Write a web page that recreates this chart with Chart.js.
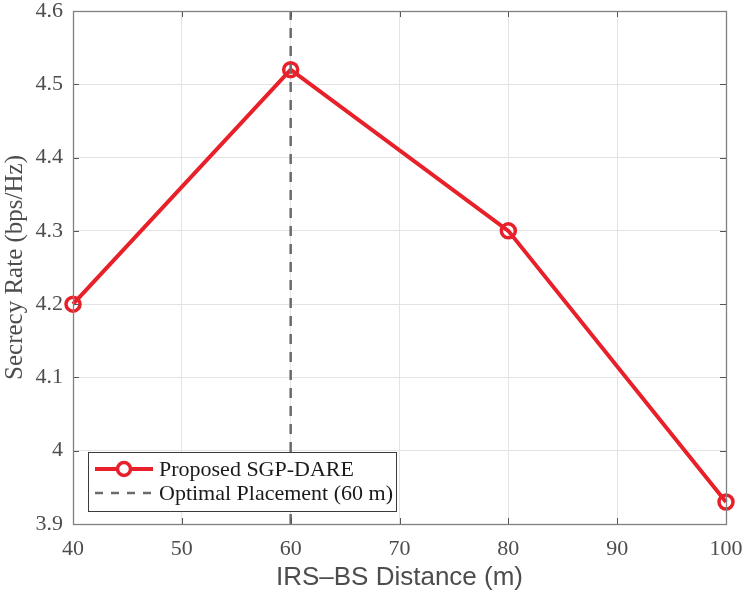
<!DOCTYPE html>
<html>
<head>
<meta charset="utf-8">
<script src="https://cdn.jsdelivr.net/npm/chart.js@4.4.1/dist/chart.umd.min.js"></script>
<style>
  html, body { margin: 0; padding: 0; background: #ffffff; }
  #wrap { width: 744px; height: 595px; position: relative; }
</style>
</head>
<body>
<div id="wrap"><canvas id="c" width="744" height="595"></canvas></div>
<script>
// ---- data ----
const distances = [40, 60, 80, 100];
const secrecyRate = [4.2, 4.52, 4.3, 3.93];
const optimalDistance = 60;
const yRange = [3.9, 4.6];
const xRange = [40, 100];
const seriesLabels = ['Proposed SGP-DARE', 'Optimal Placement (60 m)'];
const xTitle = 'IRS\u2013BS Distance (m)';
const yTitle = 'Secrecy Rate (bps/Hz)';

const RED = '#e8202a';
const DASH_GRAY = '#6b6b6b';
const AXIS_GRAY = '#808080';
const TICK_TEXT = '#4d4d4d';
const SERIF = '"Liberation Serif", "Times New Roman", serif';
const SANS = '"Liberation Sans", Arial, sans-serif';

// box, inward ticks, legend
const matlabAxes = {
  id: 'matlabAxes',
  afterDatasetsDraw(chart) {
    const {ctx, chartArea: a, scales} = chart;
    ctx.save();
    // inward ticks
    ctx.strokeStyle = '#555';
    ctx.lineWidth = 1;
    const tl = 6;
    scales.x.ticks.forEach(t => {
      const px = Math.round(scales.x.getPixelForValue(t.value)) + 0.5;
      ctx.beginPath();
      ctx.moveTo(px, a.bottom); ctx.lineTo(px, a.bottom - tl);
      ctx.moveTo(px, a.top); ctx.lineTo(px, a.top + tl);
      ctx.stroke();
    });
    scales.y.ticks.forEach(t => {
      const py = Math.round(scales.y.getPixelForValue(t.value)) + 0.5;
      ctx.beginPath();
      ctx.moveTo(a.left, py); ctx.lineTo(a.left + tl, py);
      ctx.moveTo(a.right, py); ctx.lineTo(a.right - tl, py);
      ctx.stroke();
    });
    // box
    ctx.strokeStyle = AXIS_GRAY;
    ctx.lineWidth = 1.3;
    ctx.strokeRect(Math.round(a.left) + 0.5, Math.round(a.top) + 0.5,
                   Math.round(a.right - a.left), Math.round(a.bottom - a.top));

    // legend
    const lx = 88, ly = 452, lw = 308, lh = 59;
    ctx.fillStyle = '#ffffff';
    ctx.fillRect(lx, ly, lw, lh);
    ctx.strokeStyle = '#3a3a3a';
    ctx.lineWidth = 1;
    ctx.strokeRect(lx + 0.5, ly + 0.5, lw, lh);
    const r1 = 469, r2 = 493;
    const sx0 = 95, sx1 = 153, sc = 124;
    // row 1
    ctx.strokeStyle = RED; ctx.lineWidth = 4; ctx.setLineDash([]);
    ctx.beginPath(); ctx.moveTo(sx0, r1); ctx.lineTo(sx1, r1); ctx.stroke();
    ctx.lineWidth = 3.5;
    ctx.beginPath(); ctx.arc(sc, r1, 6.5, 0, Math.PI * 2); ctx.fillStyle = '#fff'; ctx.fill(); ctx.stroke();
    // row 2
    ctx.strokeStyle = DASH_GRAY; ctx.lineWidth = 2.5; ctx.setLineDash([8, 8]);
    ctx.beginPath(); ctx.moveTo(sx0, r2); ctx.lineTo(sx1 + 2, r2); ctx.stroke();
    ctx.setLineDash([]);
    ctx.fillStyle = '#1a1a1a';
    ctx.font = '22px ' + SERIF;
    ctx.textAlign = 'left'; ctx.textBaseline = 'middle';
    ctx.fillText(seriesLabels[0], 159, r1 + 1);
    ctx.fillText(seriesLabels[1], 159, r2 + 1);
    ctx.restore();
  }
};

new Chart(document.getElementById('c'), {
  type: 'line',
  data: {
    datasets: [
      {
        label: seriesLabels[1],
        data: [{x: optimalDistance, y: yRange[0]}, {x: optimalDistance, y: yRange[1]}],
        borderColor: DASH_GRAY,
        borderWidth: 2.5,
        borderDash: [10, 8],
        pointRadius: 0,
        fill: false,
        order: 0
      },
      {
        label: seriesLabels[0],
        data: distances.map((d, i) => ({x: d, y: secrecyRate[i]})),
        borderColor: RED,
        borderWidth: 4,
        pointRadius: 7,
        pointBorderWidth: 3.5,
        pointBorderColor: RED,
        pointBackgroundColor: 'rgba(255,255,255,0)',
        fill: false,
        tension: 0,
        order: 1
      }
    ]
  },
  options: {
    responsive: false,
    animation: false,
    devicePixelRatio: 1,
    clip: false,
    layout: { padding: { top: 11, right: 18, left: 0, bottom: 0 } },
    plugins: { legend: { display: false }, tooltip: { enabled: false } },
    scales: {
      x: {
        type: 'linear',
        min: xRange[0], max: xRange[1],
        ticks: { stepSize: 10, color: TICK_TEXT, font: { family: SERIF, size: 22 }, padding: 12, maxRotation: 0 },
        grid: { color: '#e3e3e3', lineWidth: 1, drawTicks: false },
        border: { display: false },
        title: { display: true, text: xTitle, color: '#4d4d4d', font: { family: SANS, size: 26 }, padding: { top: 0, bottom: 2 } },
        afterFit(s) { s.height = 71; s.paddingLeft = 0; s.paddingRight = 0; }
      },
      y: {
        type: 'linear',
        min: yRange[0], max: yRange[1],
        ticks: {
          stepSize: 0.1, color: TICK_TEXT, font: { family: SERIF, size: 22 }, padding: 10,
          callback: v => String(Math.round(v * 10) / 10)
        },
        grid: { color: '#e3e3e3', lineWidth: 1, drawTicks: false },
        border: { display: false },
        title: { display: true, text: yTitle, color: '#4d4d4d', font: { family: SERIF, size: 25 }, padding: { top: 0, bottom: 0 } },
        afterFit(s) { s.width = 73; s.paddingTop = 0; s.paddingBottom = 0; }
      }
    }
  },
  plugins: [matlabAxes]
});
</script>
</body>
</html>
